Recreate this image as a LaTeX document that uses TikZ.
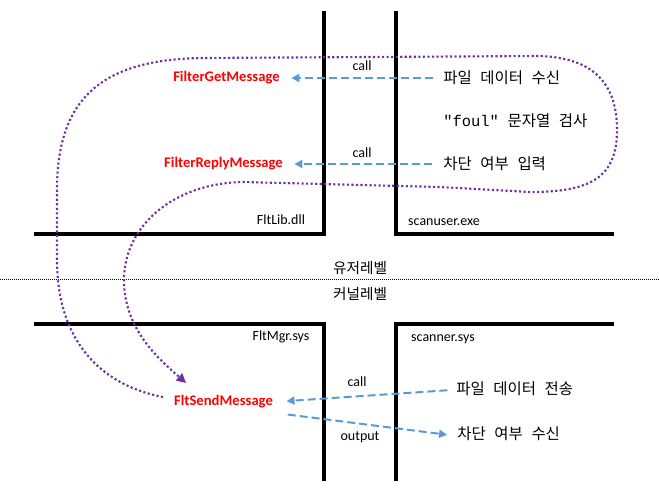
\documentclass[tikz,border=0pt]{standalone}
\usepackage{fontspec}
\setmainfont{Carlito}
\newfontfamily\kr{Noto Sans CJK KR}[WordSpace=2.5]
\newfontfamily\monof{Liberation Mono}
\usetikzlibrary{arrows.meta}
\definecolor{fred}{HTML}{FF0000}
\definecolor{fpurple}{HTML}{7030A0}
\definecolor{fblue}{HTML}{5B9BD5}
\tikzset{
  wall/.style={line width=2.3pt, line cap=rect},
  fn/.style={font=\fontsize{11}{13}\selectfont\bfseries, text=fred, inner sep=0pt},
  modlabel/.style={font=\fontsize{10.5}{12}\selectfont, inner sep=0pt},
  smalllabel/.style={font=\fontsize{10.5}{12}\selectfont, inner sep=0pt},
  krtext/.style={font=\kr\fontsize{11.6}{13}\selectfont, inner sep=0pt, anchor=west},
  lvtext/.style={font=\kr\fontsize{11}{13}\selectfont, inner sep=0pt},
  flow/.style={draw=fblue, line width=1.5pt, dash pattern=on 6pt off 3pt, -{Triangle[length=6pt,width=6pt]}},
  loop/.style={draw=fpurple, line width=1.6pt, dash pattern=on 1.6pt off 1.8pt},
}
\begin{document}
\begin{tikzpicture}[x=0.75pt,y=-0.75pt]
\useasboundingbox (0,0) rectangle (659,493);
% walls
\draw[wall] (324,13) -- (324,234) -- (36,234);
\draw[wall] (396,13) -- (396,234) -- (612,234);
\draw[wall] (36,324) -- (324,324) -- (324,479);
\draw[wall] (612,324) -- (396,324) -- (396,479);
% level separator
\draw[line width=0.75pt, dash pattern=on 0.75pt off 0.75pt] (0,279) -- (659,279);
\node[lvtext] (ul) at (360,268) {유저레벨};
\node[lvtext] (kl) at (360,294) {커널레벨};
% module labels
\node[modlabel] (fltlib) at (281,220) {FltLib.dll};
\node[modlabel] (scanuser) at (444,222) {scanuser.exe};
\node[modlabel] (fltmgr) at (281,337) {FltMgr.sys};
\node[modlabel] (scanner) at (443,339) {scanner.sys};
% functions
\node[fn] (fgm) at (226.5,78) {FilterGetMessage};
\node[fn] (frm) at (223.5,164) {FilterReplyMessage};
\node[fn] (fsm) at (223.5,402) {FltSendMessage};
% korean texts
\node[krtext] (k1) at (443,78) {파일 데이터 수신};
\node[krtext] (k2) at (443,121) {{\monof "foul"} 문자열 검사};
\node[krtext] (k3) at (443,164) {차단 여부 입력};
\node[krtext] (k4) at (456,389) {파일 데이터 전송};
\node[krtext] (k5) at (457,434) {차단 여부 수신};
% call labels
\node[smalllabel] (c1) at (362,66) {call};
\node[smalllabel] (c2) at (362,153) {call};
\node[smalllabel] (c3) at (357,382) {call};
\node[smalllabel] (c4) at (360,437) {output};
% flows
\draw[flow, shorten <=7.5pt, shorten >=8.5pt] (k1.west) -- (fgm.east);
\draw[flow, shorten <=8pt, shorten >=8.5pt] (k3.west) -- (frm.east);
\draw[flow, shorten <=6.5pt, shorten >=10pt] ([yshift=-0.5pt]k4.west) -- ([yshift=0pt]fsm.east);
\draw[flow, shorten <=11pt, shorten >=7.5pt] ([yshift=-8pt]fsm.east) -- ([yshift=-1.5pt]k5.west);
% purple loop
\draw[loop, -{Triangle[length=7pt,width=7pt]}]
  (163,397) .. controls (100,385) and (57,340) .. (57,260)
  -- (57,190) .. controls (57,100) and (100,60) .. (200,58)
  -- (540,56) .. controls (595,58) and (617,85) .. (617,130)
  .. controls (617,178) and (590,192) .. (530,192)
  -- (440,187) -- (243,182)
  .. controls (175,183) and (124,225) .. (124,280)
  .. controls (124,330) and (160,360) .. (186,383);
\end{tikzpicture}
\end{document}
